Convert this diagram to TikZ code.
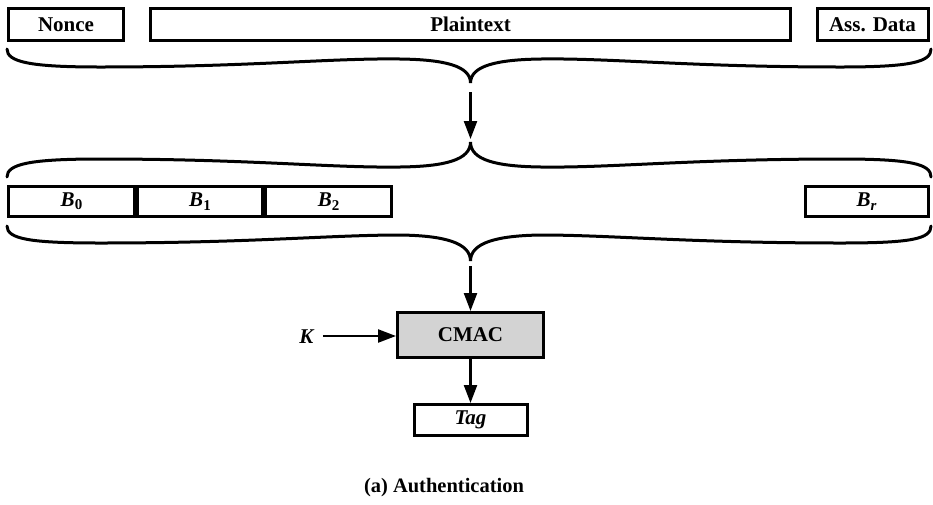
\documentclass[tikz,border=0pt]{standalone}
\usepackage{fontspec}
\setmainfont{Liberation Serif}
\usetikzlibrary{arrows.meta}
\definecolor{boxgray}{RGB}{211,211,211}
\tikzset{
  blk/.style={draw=black, line width=3pt, rectangle, inner sep=0pt, font=\fontsize{21}{24}\selectfont\bfseries},
  arr/.style={line width=2.3pt, -{Triangle[length=18pt,width=13pt]}},
  brc/.style={line width=3pt, line cap=round},
  lbl/.style={inner sep=0pt, font=\fontsize{21}{24}\selectfont\bfseries}
}
\newcommand{\Bsub}[1]{\textit{B}\raisebox{-0.35ex}{\fontsize{15}{18}\selectfont #1}}
\begin{document}
\begin{tikzpicture}[x=1pt, y=-1pt]
\useasboundingbox (0,0) rectangle (933,504);
% top fields
\node[blk, minimum width=115pt, minimum height=32pt] (nonce) at (66,24.5) {Nonce};
\node[blk, minimum width=640pt, minimum height=32pt] (plain) at (470.5,24.5) {Plaintext};
\node[blk, minimum width=111pt, minimum height=32pt] (ass) at (872.5,24.5) {Ass. Data};
% blocks
\node[blk, minimum width=126pt, minimum height=30pt] (b0) at (71.5,201.5) {\Bsub{0}};
\node[blk, minimum width=125pt, minimum height=30pt] (b1) at (200,201.5) {\Bsub{1}};
\node[blk, minimum width=126pt, minimum height=30pt] (b2) at (328.5,201.5) {\Bsub{2}};
\node[blk, minimum width=123pt, minimum height=30pt] (br) at (866.5,201.5) {\Bsub{\textit{r}}};
% CMAC and tag
\node[blk, fill=boxgray, minimum width=146pt, minimum height=45pt] (cmac) at (470.5,335) {CMAC};
\node[blk, minimum width=113pt, minimum height=31pt] (tag) at (470.5,420) {\textit{Tag}};
\node[lbl] (k) at (307,337) {\textit{K}};
\node[lbl, font=\fontsize{20.5}{24}\selectfont\bfseries] (cap) at (444,488) {(a) Authentication};
% braces
\coordinate (t1) at (470.5,83);
\draw[brc] (7,49) .. controls (7,62) and (30,67) .. (100,67)
  .. controls (250,67) and (330,58) .. (400,59)
  .. controls (445,59.6) and (470.5,66) .. (t1)
  .. controls (470.5,66) and (496,59.6) .. (541,59)
  .. controls (611,58) and (691,67) .. (841,67)
  .. controls (911,67) and (931,62) .. (931,49);
\coordinate (t2) at (470.5,142);
\draw[brc] (7,177) .. controls (7,164) and (30,159) .. (100,159)
  .. controls (250,159) and (330,168) .. (400,167)
  .. controls (445,166.4) and (470.5,160) .. (t2)
  .. controls (470.5,160) and (496,166.4) .. (541,167)
  .. controls (611,168) and (691,159) .. (841,159)
  .. controls (911,159) and (931,164) .. (931,177);
\coordinate (t3) at (470.5,261);
\draw[brc] (7,226) .. controls (7,239) and (30,243) .. (100,243)
  .. controls (250,243) and (330,235) .. (400,235)
  .. controls (445,235.6) and (470.5,243) .. (t3)
  .. controls (470.5,243) and (496,235.6) .. (541,235)
  .. controls (611,235) and (691,243) .. (841,243)
  .. controls (911,243) and (931,239) .. (931,226);
% arrows
\coordinate (a1s) at (470.5,92);
\coordinate (a1e) at (470.5,139);
\draw[arr] (a1s) -- (a1e);
\coordinate (a2s) at (470.5,266);
\draw[arr] (a2s) -- (cmac.north);
\draw[arr] (k.east) ++(8,-1) coordinate (ks) (ks) -- (cmac.west |- ks);
\draw[arr] (cmac.south) -- (tag.north);
\end{tikzpicture}
\end{document}
